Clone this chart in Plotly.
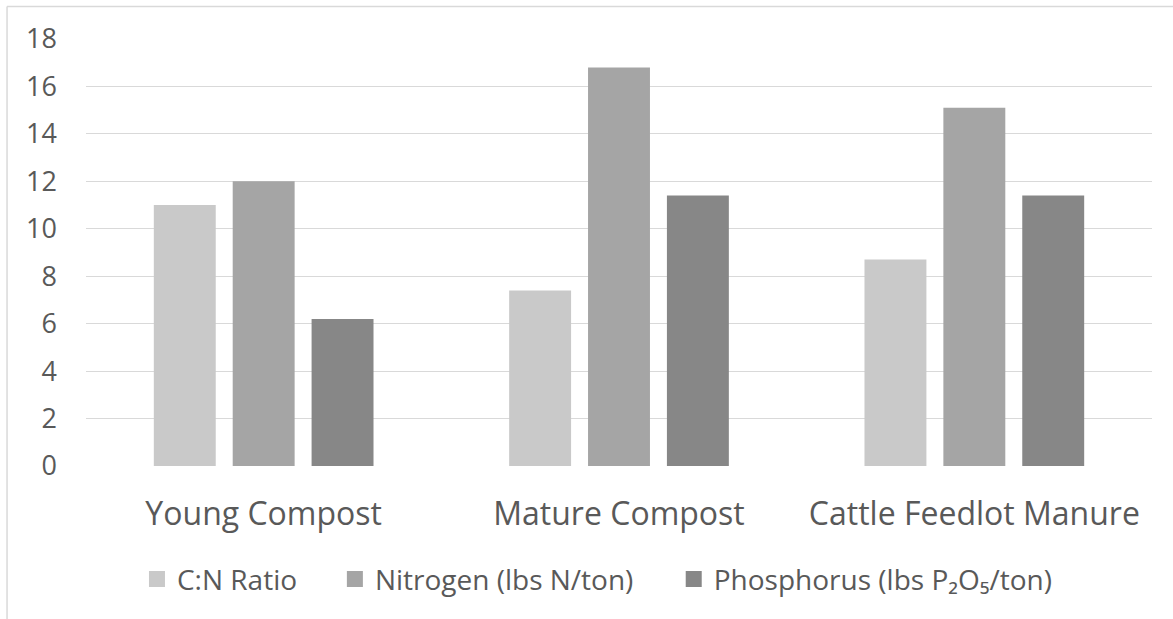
import plotly.graph_objects as go

# Compost and manure nutrient comparison
categories = ["Young Compost", "Mature Compost", "Cattle Feedlot Manure"]
series_names = ["C:N Ratio", "Nitrogen (lbs N/ton)", "Phosphorus (lbs P₂O₅/ton)"]
cn_ratio = [11.0, 7.4, 8.7]
nitrogen = [12.0, 16.8, 15.1]
phosphorus = [6.2, 11.4, 11.4]
y_ticks = [0, 2, 4, 6, 8, 10, 12, 14, 16, 18]

colors = ["#C9C9C9", "#A5A5A5", "#878787"]
text_color = "#595959"
grid_color = "#D9D9D9"
font_family = "Open Sans, Noto Sans, sans-serif"

W, H = 1173, 619
ml, mr, mt, mb = 86, 20.5, 39, 152.5
plot_w = W - ml - mr
plot_h = H - mt - mb


def px_to_paper_x(px):
    return (px - ml) / plot_w


def px_to_paper_y(py):
    return (H - mb - py) / plot_h


fig = go.Figure()

for name, vals, col in zip(series_names, [cn_ratio, nitrogen, phosphorus], colors):
    fig.add_trace(go.Bar(
        x=categories, y=vals, name=name,
        marker=dict(color=col, line=dict(width=0)),
        showlegend=False,
    ))

# Legend entries, each in its own legend box so they can be spaced freely
legend_ids = ["legend", "legend2", "legend3"]
legend_left_px = [137, 335, 674]
for name, col, lid in zip(series_names, colors, legend_ids):
    fig.add_trace(go.Scatter(
        x=[None], y=[None], mode="markers", name=name,
        marker=dict(symbol="square", size=16, color=col),
        legend=lid, showlegend=True,
    ))

legend_common = dict(
    orientation="h", xanchor="left", yanchor="middle",
    y=px_to_paper_y(580), bgcolor="rgba(0,0,0,0)", borderwidth=0,
    font=dict(family=font_family, size=28, color=text_color),
)
layout_legends = {}
for lid, lx in zip(legend_ids, legend_left_px):
    layout_legends[lid] = dict(legend_common, x=px_to_paper_x(lx))

fig.update_layout(
    width=W, height=H, autosize=False,
    margin=dict(l=ml, r=mr, t=mt, b=mb, pad=0),
    paper_bgcolor="white", plot_bgcolor="white",
    barmode="group", bargap=0.334, bargroupgap=0.215,
    font=dict(family=font_family, color=text_color),
    xaxis=dict(
        type="category", showgrid=False, showline=False, zeroline=False,
        ticks="", tickfont=dict(size=32, color=text_color),
        ticklabelstandoff=26,
    ),
    yaxis=dict(
        range=[0, 18], tickvals=y_ticks, showgrid=True,
        gridcolor=grid_color, gridwidth=1, zeroline=False, showline=False,
        ticks="", tickfont=dict(size=27, color=text_color),
        ticklabelstandoff=28,
    ),
    **layout_legends,
)

# Chart-area border (left and top edges)
border = dict(color=grid_color, width=1.5)
bx = px_to_paper_x(7)
by = px_to_paper_y(6.5)
fig.add_shape(type="line", xref="paper", yref="paper",
              x0=bx, x1=px_to_paper_x(1185), y0=by, y1=by, line=border)
fig.add_shape(type="line", xref="paper", yref="paper",
              x0=bx, x1=bx, y0=by, y1=px_to_paper_y(630), line=border)

fig.write_html("out.html")
